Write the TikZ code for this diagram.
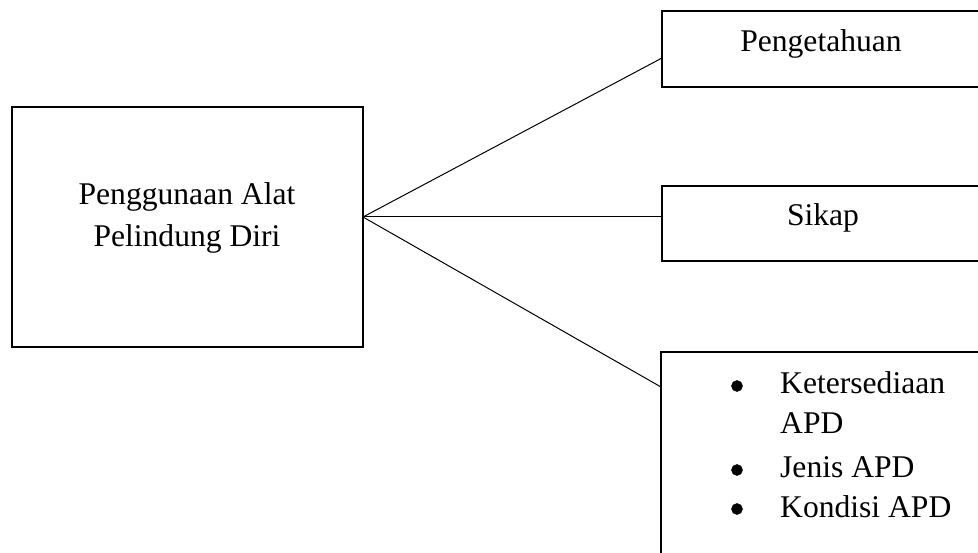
\documentclass[tikz,border=0pt]{standalone}
\usepackage{fontspec}
\setmainfont{Liberation Serif}
\usetikzlibrary{calc}
\begin{document}
\begin{tikzpicture}[x=1pt,y=-1pt,
  box/.style={draw, line width=2.4pt, inner sep=0pt, outer sep=0pt},
  conn/.style={line width=1pt},
  lbl/.style={font=\fontsize{31.6}{42}\selectfont, inner sep=0pt, anchor=base},
  lblw/.style={lbl, anchor=base west},
  dot/.style={circle, fill=black, draw=black, line width=0.5pt, inner sep=0pt, minimum size=11pt}]
\useasboundingbox (0,0) rectangle (978,553);
\clip (0,0) rectangle (978,553);
% boxes
\node[box, minimum width=351pt, minimum height=240pt] (main) at (187.5,227) {};
\node[box, minimum width=338pt, minimum height=76pt] (b1) at (831,49) {};
\node[box, minimum width=338pt, minimum height=75pt] (b2) at (831,223.5) {};
\node[box, minimum width=339pt, minimum height=248pt] (b3) at (830.5,476) {};
% texts
\node[lbl] (m1) at (187,205) {Penggunaan Alat};
\node[lbl] (m2) at (187,247) {Pelindung Diri};
\node[lbl] (t1) at (821,52) {Pengetahuan};
\node[lbl] (t2) at (823,226) {Sikap};
\node[lblw] (l1) at (780,394) {Ketersediaan};
\node[lblw] (l2) at (780,433) {APD};
\node[lblw] (l3) at (780,478) {Jenis APD};
\node[lblw] (l4) at (780,517) {Kondisi APD};
\node[dot] (d1) at (737,386) {};
\node[dot] (d3) at (737,470) {};
\node[dot] (d4) at (737,509) {};
% connectors
\coordinate (hub) at ($(main.east)+(0,-10)$);
\coordinate (e1) at ($(b1.west)+(0,9)$);
\coordinate (e2) at ($(b2.west)+(0,-6.5)$);
\coordinate (e3) at ($(b3.west)+(0,-89)$);
\draw[conn] (hub) -- (e1);
\draw[conn] (hub) -- (e2);
\draw[conn] (hub) -- (e3);
\end{tikzpicture}
\end{document}
